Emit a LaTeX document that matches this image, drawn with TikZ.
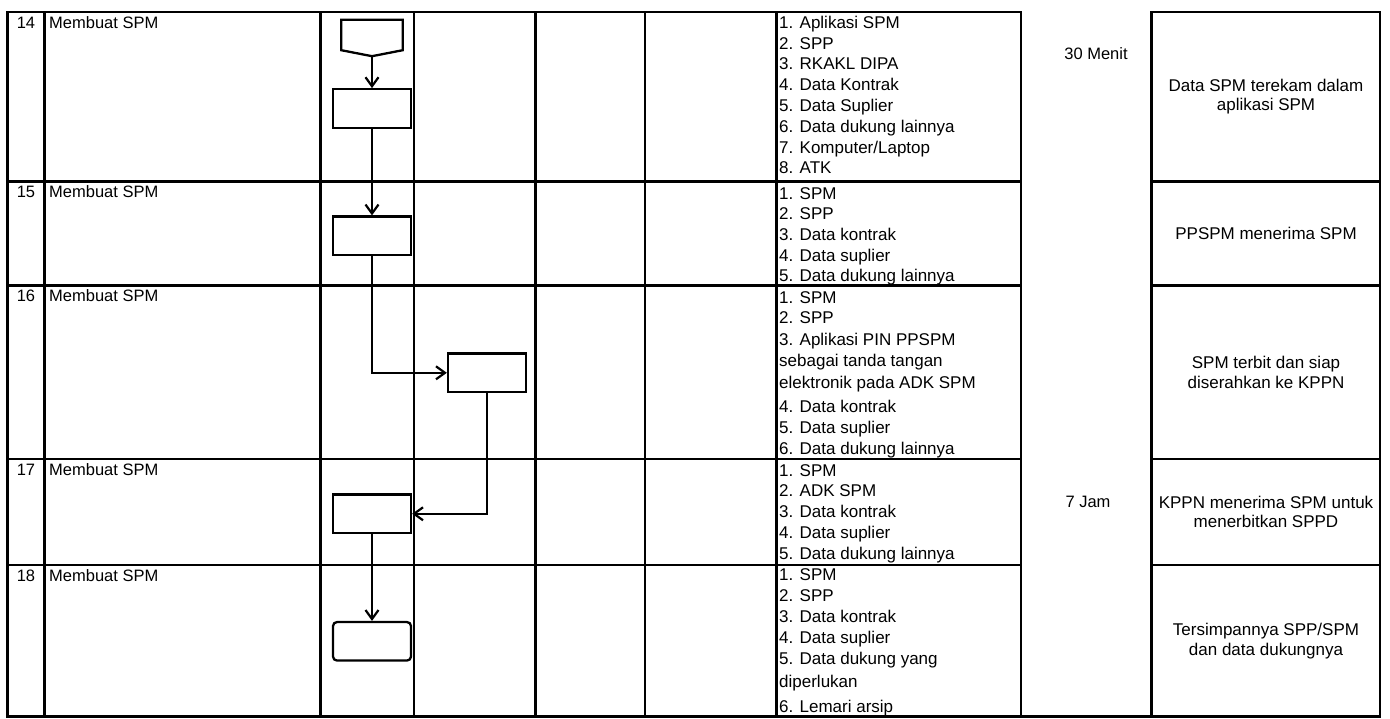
\documentclass[tikz,border=0pt]{standalone}
\usepackage{fontspec}
\setmainfont{Liberation Sans}
\usetikzlibrary{arrows.meta,calc}
\begin{document}
\begin{tikzpicture}[x=1pt,y=-1pt,
  grid/.style={line width=2.8pt, line cap=rect},
  box/.style={draw, line width=2.3pt, minimum width=78, minimum height=38.5, inner sep=0},
  shp/.style={line width=2.3pt, line join=miter},
  arr/.style={line width=2.2pt, -{Straight Barb[length=9pt,width=13pt]}},
  lbl/.style={anchor=base, inner sep=0, font=\fontsize{16.5}{19}\selectfont},
  steptext/.style={anchor=base west, inner sep=0, font=\fontsize{16.5}{19}\selectfont},
  res/.style={anchor=base west, inner sep=0, font=\fontsize{17}{20}\selectfont},
  outtext/.style={align=center, inner sep=0, font=\fontsize{17}{19.5}\selectfont},
]
\useasboundingbox (0,0) rectangle (1390,718);
% table grid
\foreach \yy in {12,181.7,285.7,459,565} {
  \draw[grid] (7.3,\yy) -- (1021,\yy);
  \draw[grid] (1151.7,\yy) -- (1380,\yy);
}
\draw[grid] (7.3,716.8) -- (1380,716.8);
\foreach \xx in {7.3,44.3,320.7,414,535.7,645,776.7,1021,1151.7,1380}
  \draw[grid] (\xx,12) -- (\xx,716.8);
% row numbers and step names
\foreach \n/\yy in {14/12,15/181.7,16/285.7,17/459,18/565} {
  \node[lbl] (n\n) at (26,{\yy+16}) {\n};
  \node[steptext] (s\n) at (49,{\yy+16}) {Membuat SPM};
}
% resources
\foreach \t [count=\i from 0] in {1. Aplikasi SPM,2. SPP,3. RKAKL DIPA,4. Data Kontrak,5. Data Suplier,6. Data dukung lainnya,7. Komputer/Laptop,8. ATK}
  \node[res] (ra\i) at (779,{28.3+20.8*\i}) {\t};
\foreach \t [count=\i from 0] in {1. SPM,2. SPP,3. Data kontrak,4. Data suplier,5. Data dukung lainnya}
  \node[res] (rb\i) at (779,{199.3+20.6*\i}) {\t};
\foreach \t/\yy [count=\i from 0] in {1. SPM/303,2. SPP/323.5,3. Aplikasi PIN PPSPM/345.5,sebagai tanda tangan/366.7,elektronik pada ADK SPM/388.3,4. Data kontrak/412.3,5. Data suplier/433.3,6. Data dukung lainnya/454}
  \node[res] (rc\i) at (779,\yy) {\t};
\foreach \t [count=\i from 0] in {1. SPM,2. ADK SPM,3. Data kontrak,4. Data suplier,5. Data dukung lainnya}
  \node[res] (rd\i) at (779,{476+20.8*\i}) {\t};
\foreach \t/\yy [count=\i from 0] in {1. SPM/580.7,2. SPP/601.7,3. Data kontrak/622.7,4. Data suplier/643.3,5. Data dukung yang/664,diperlukan/687.3,6. Lemari arsip/712.7}
  \node[res] (re\i) at (779,\yy) {\t};
% time
\node[lbl] (t1) at (1096,59.5) {30 Menit};
\node[lbl] (t2) at (1088,507.5) {7 Jam};
% outputs
\node[outtext] (o14) at (1266,96.8) {Data SPM terekam dalam\\aplikasi SPM};
\node[outtext] (o15) at (1266,233.7) {PPSPM menerima SPM};
\node[outtext] (o16) at (1266,372.3) {SPM terbit dan siap\\diserahkan ke KPPN};
\node[outtext] (o17) at (1266,512) {KPPN menerima SPM untuk\\menerbitkan SPPD};
\node[outtext] (o18) at (1266,641) {Tersimpannya SPP/SPM\\dan data dukungnya};
% flow shapes
\node[minimum width=61, minimum height=30, inner sep=0] (c0) at (372,35) {};
\draw[shp] (c0.north west) -- (c0.north east) -- (c0.south east) -- ($(c0.south)+(0,6)$) coordinate (c0tip) -- (c0.south west) -- cycle;
\node[box] (b1) at (372,108.5) {};
\node[box] (b2) at (372,235.8) {};
\node[box] (b3) at (487,372.8) {};
\node[box] (b4) at (372,513.8) {};
\node[box, rounded corners=4pt] (b5) at (372,641.3) {};
% connectors
\draw[arr] (c0tip) -- (c0tip |- b1.north);
\draw[arr] (b1.south) -- (b1.south |- b2.north);
\draw[arr] (b2.south) |- (b3.west);
\draw[arr] (b3.south) |- (b4.east);
\draw[arr] (b4.south) -- (b4.south |- b5.north);
\end{tikzpicture}
\end{document}
